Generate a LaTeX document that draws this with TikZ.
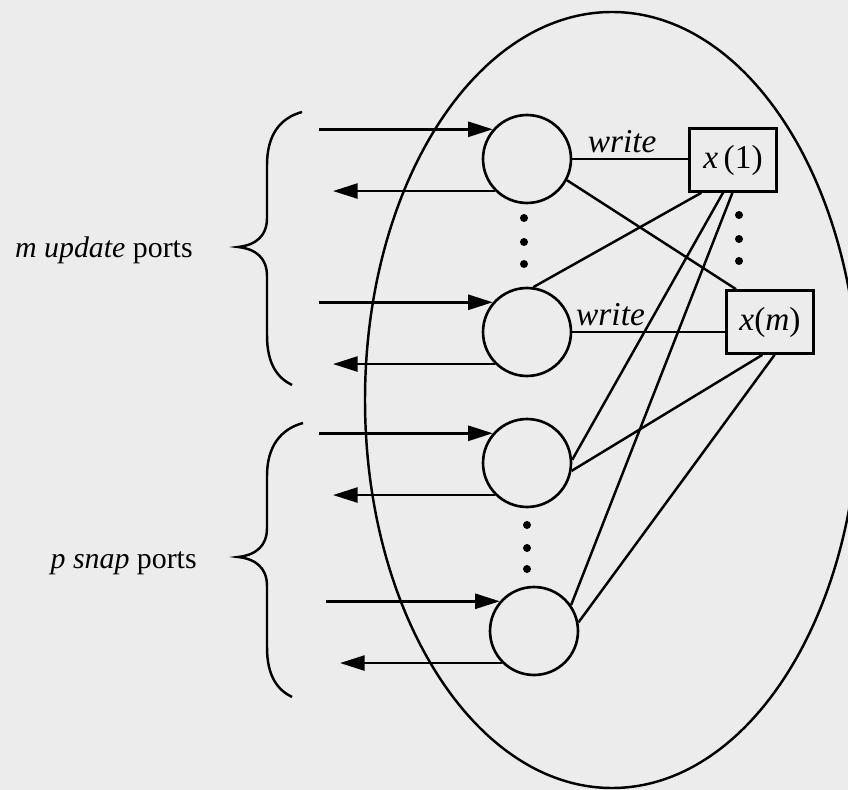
\documentclass[tikz,border=0pt]{standalone}
\usepackage{fontspec}
\setmainfont{Liberation Serif}
\usetikzlibrary{arrows.meta}
\definecolor{paper}{HTML}{ECECEC}
\tikzset{
  proc/.style={circle, draw, line width=1.5pt, minimum size=1.76cm, inner sep=0pt},
  reg/.style={rectangle, draw, line width=1.5pt, minimum width=1.74cm, minimum height=1.26cm,
              inner sep=0pt, font=\fontsize{19}{22}\selectfont},
  arr/.style={-{Triangle[length=14pt, width=8.5pt]}, line width=1.5pt},
  link/.style={line width=1.4pt},
  lbl/.style={font=\fontsize{19}{22}\selectfont\itshape, inner sep=3pt},
  side/.style={font=\fontsize{17}{20}\selectfont, anchor=base east, inner sep=0pt},
}

\begin{document}
\begin{tikzpicture}[x=0.02cm, y=-0.02cm]
    \fill[paper] (0,0) rectangle (848,790);
    \useasboundingbox (0,0) rectangle (848,790);
    \clip (0,0) rectangle (848,790);
    \draw[link] (612,400) ellipse [x radius=247, y radius=388];
    \node[proc] (c1) at (527,159) {};
    \node[proc] (c2) at (527,332) {};
    \node[proc] (c3) at (527,463) {};
    \node[proc] (c4) at (534,631) {};
    \node[reg] (x1) at (733,160) {\textit{x}\,(1)};
    \node[reg] (xm) at (770,322) {\textit{x}(\textit{m})};
    \foreach \i in {1,...,4} {
      \path (c\i.139) ++(-174,0) coordinate (in\i);
      \path (c\i.225) ++(-162,0) coordinate (out\i);
      \draw[arr] (in\i) -- (c\i.139);
      \draw[arr] (c\i.225) -- (out\i);
    }
    \draw[link] (c1) -- node[lbl, above, pos=0.43] (w1) {write} (c1 -| x1.west);
    \draw[link] (c2) -- node[lbl, above, pos=0.25] (w2) {write} (c2 -| xm.west);
    \draw[link] (c1.-28) -- (xm.136);
    \draw[link] (c2.82) -- (x1.226);
    \draw[link] (x1.253) -- (c3.4);
    \draw[link] (x1.269) -- (c4.35);
    \draw[link] (xm.257) -- (c3.-10);
    \draw[link] (xm.278) -- (c4.11);
    \foreach \y in {218,242,264} \fill (524,\y) circle [radius=4];
    \foreach \y in {525,548,569} \fill (527,\y) circle [radius=4];
    \foreach \y in {215,239,261} \fill (739,\y) circle [radius=4];
    \draw[link] (302,112) .. controls (280,118) and (267,135) .. (267,165) -- (267,218)
      .. controls (267,236) and (256,245) .. (238,247)
      .. controls (256,249) and (267,258) .. (267,276) -- (267,335)
      .. controls (267,365) and (278,378) .. (292,385);
    \draw[link] (303,423) .. controls (281,429) and (267,446) .. (267,476) -- (267,528)
      .. controls (267,546) and (256,555) .. (238,557)
      .. controls (256,559) and (267,568) .. (267,586) -- (267,647)
      .. controls (267,677) and (278,690) .. (292,697);
    \node[side] (upd) at (193,258) {\textit{m update} ports};
    \node[side] (snap) at (197,568) {\textit{p snap} ports};
  \end{tikzpicture}
\end{document}
